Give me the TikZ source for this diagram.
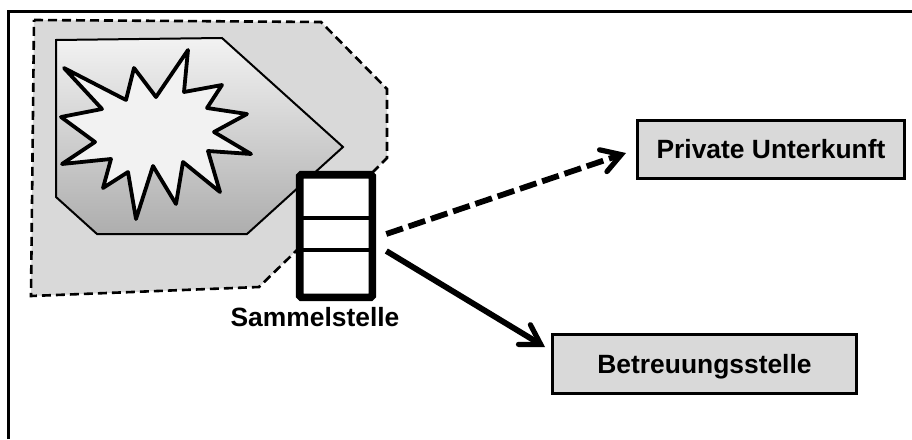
\documentclass[tikz,border=0pt]{standalone}
\usepackage{fontspec}
\setmainfont{Liberation Sans}
\usetikzlibrary{arrows.meta}
\definecolor{zonegray}{gray}{0.85}
\tikzset{
  x=1pt,y=-1pt,
  frameline/.style={draw=black,line width=3pt},
  zone/.style={fill=zonegray,draw=black,line width=2.6pt,dash pattern=on 9pt off 5pt},
  blast/.style={draw=black,line width=2pt,top color=black!5,bottom color=black!32},
  burst/.style={draw=black,line width=3.8pt,fill=black!5,line join=round},
  dest/.style={draw=black,line width=3pt,fill=zonegray,font=\bfseries\fontsize{26.4}{30}\selectfont,inner sep=0pt,outer sep=0pt,anchor=north west},
  lab/.style={font=\bfseries\fontsize{26.4}{30}\selectfont,inner sep=0pt,outer sep=0pt},
  post/.style={draw=black,line width=7.6pt,fill=white,rounded corners=1.5pt,inner sep=0pt,outer sep=0pt,anchor=north west,minimum width=72.6pt,minimum height=122.6pt},
  divider/.style={draw=black,line width=4pt},
  flow/.style={line width=5.8pt,-{Straight Barb[length=19pt,width=23pt,line width=5.2pt,line cap=round,line join=miter]}}
}
\begin{document}
\begin{tikzpicture}
\useasboundingbox (0,0) rectangle (912,439);
\coordinate (fa) at (8.7,439);
\coordinate (fb) at (8.7,11.3);
\coordinate (fc) at (912,11.3);
\draw[frameline,line join=miter] (fa) -- (fb) -- (fc);
\path[zone] (34,20) -- (321,22) -- (387,89) -- (387,158) -- (375,170) -- (293,254) -- (259,287) -- (31,296) -- cycle;
\path[blast] (56,40) -- (222,38) -- (343,147) -- (247,234) -- (97,234) -- (56,197) -- cycle;
\path[burst] (64,68) -- (126,100) -- (134,68) -- (156,97) -- (188,50) -- (184,92) -- (222,85) -- (207,108) -- (247,114) -- (214,132) -- (251,154) -- (208,151) -- (220,192) -- (183,162) -- (176,204) -- (153,166) -- (136,219) -- (128,172) -- (103,188) -- (111,159) -- (62,164) -- (95,142) -- (61,117) -- (102,109) -- cycle;
\node[post] (box) at (299.7,174.7) {};
\draw[divider] (box.west |- 0,218) -- (box.east |- 0,218);
\draw[divider] (box.west |- 0,250) -- (box.east |- 0,250);
\node[lab] (cap) at (315,317) {Sammelstelle};
\node[dest,minimum width=267pt,minimum height=58pt] (pu) at (637.5,120.5) {Private Unterkunft};
\node[dest,minimum width=304pt,minimum height=59pt,text depth=0pt] (bs) at (552.5,334.5) {Betreuungsstelle};
\draw[flow,dash pattern=on 17.5pt off 6pt] ([shift={(14,-2)}]box.east) -- ([shift={(-11.5,3.5)}]pu.west);
\draw[flow] ([shift={(14,15)}]box.east) -- ([shift={(-7.5,-17)}]bs.west);
\end{tikzpicture}
\end{document}
